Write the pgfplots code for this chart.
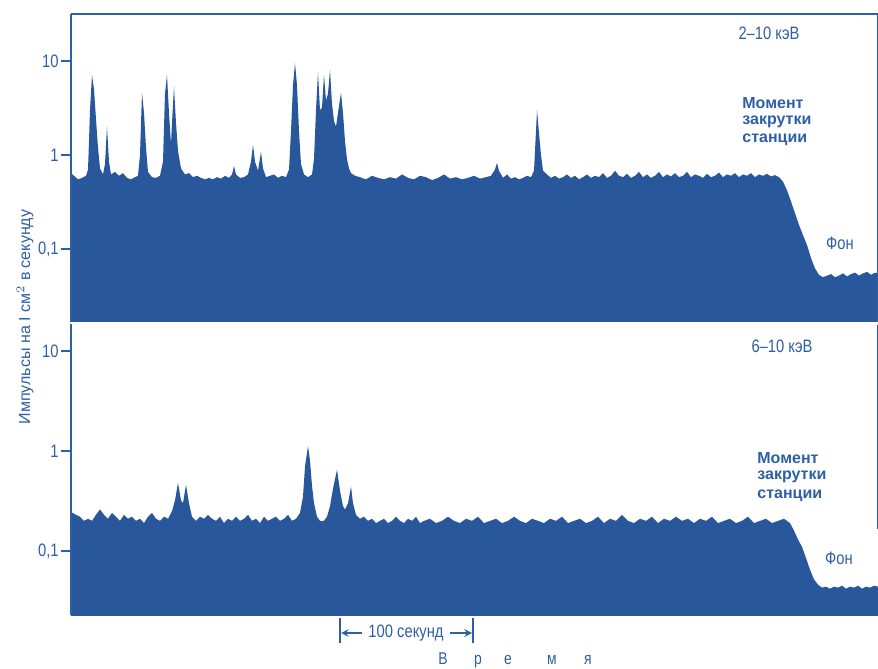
\documentclass[border=0pt]{standalone}
\usepackage{fontspec}
\setmainfont{Liberation Sans}[FakeStretch=0.82]
\newfontfamily\ylfont{Liberation Sans}
\usepackage{pgfplots}
\pgfplotsset{compat=1.18}
\definecolor{fillblue}{RGB}{40,88,155}
\definecolor{txtblue}{RGB}{45,95,165}

\begin{document}
\begin{tikzpicture}
\useasboundingbox (0pt,0pt) rectangle (439pt,334.5pt);
\begin{axis}[scale only axis, width=403.5pt, height=154pt, xmin=71, xmax=878,
  ymode=log, ymin=0.0167, ymax=31.6,
  at={(35.5pt,173.5pt)}, anchor=south west,
  axis on top, xtick=\empty, ytick={0.1,1,10}, yticklabels={0{,}1,1,10},
  axis x line*=top, axis y line*=left,
  tick align=outside, major tick length=5pt, yminorticks=false, xminorticks=false,
  axis line style={txtblue, line width=0.8pt},
  tick style={txtblue, line width=0.8pt},
  yticklabel style={font=\fontsize{9}{9}\selectfont, text=txtblue, inner sep=1pt}]
\addplot[fill=fillblue, draw=none] coordinates {
(71,0.01)
(71,0.64) (74,0.60) (78,0.55) (82,0.57) (86,0.60) (88,0.70) (89,1.4) (90,3.0) (92,7.1) (94,5.0) (96,2.4)
(98,1.2) (100,0.72) (103,0.62) (105,0.80) (107,2.0) (109,0.85) (111,0.62) (115,0.66) (119,0.60)
(123,0.64) (127,0.57) (131,0.55) (135,0.58) (138,0.60) (140,1.0) (142,4.6) (144,2.8) (146,1.2)
(148,0.66) (152,0.58) (156,0.57) (160,0.60) (163,0.85) (165,4.5) (167,7.1) (169,2.8) (171,1.3)
(172,2.2) (174,5.3) (176,2.2) (178,1.1) (181,0.72) (185,0.62) (189,0.64) (193,0.58) (197,0.60)
(201,0.57) (205,0.55) (209,0.57) (213,0.55) (217,0.58) (221,0.56) (225,0.60) (229,0.57) (232,0.62)
(234,0.76) (236,0.62) (240,0.57) (244,0.58) (248,0.62) (251,0.85) (253,1.28) (255,0.85) (258,0.68)
(261,1.08) (263,0.72) (266,0.58) (270,0.60) (274,0.62) (278,0.57) (282,0.60) (286,0.58) (289,0.70)
(291,1.8) (293,5.5) (295,9.5) (297,5.5) (299,1.8) (301,0.80) (304,0.62) (308,0.58) (312,0.62)
(314,0.9) (316,3.0) (318,7.6) (320,3.0) (322,3.2) (324,7.1) (326,3.8) (328,4.5) (330,8.0) (332,3.5)
(334,2.3) (336,2.0) (338,2.8) (341,4.6) (343,2.8) (345,1.4) (347,0.9) (349,0.72) (351,0.64) (355,0.60)
(360,0.58) (366,0.55) (372,0.60) (378,0.57) (384,0.55) (390,0.58) (396,0.56) (402,0.62) (408,0.57)
(414,0.55) (420,0.60) (426,0.58) (432,0.54) (438,0.57) (444,0.62) (450,0.56) (456,0.58) (462,0.55)
(468,0.57) (474,0.60) (480,0.56) (486,0.58) (491,0.60) (495,0.70) (497,0.82) (499,0.68) (503,0.57)
(507,0.62) (511,0.56) (515,0.58) (519,0.55) (523,0.57) (527,0.60) (531,0.58) (534,0.68) (536,1.8)
(537,3.0) (539,1.7) (541,1.0) (543,0.68) (547,0.62) (551,0.57) (555,0.60) (559,0.56) (563,0.58)
(567,0.62) (571,0.57) (575,0.60) (579,0.55) (583,0.58) (587,0.62) (591,0.57) (595,0.60) (599,0.58)
(603,0.64) (607,0.57) (611,0.60) (615,0.68) (619,0.60) (623,0.58) (627,0.63) (631,0.57) (635,0.60)
(639,0.66) (643,0.58) (647,0.62) (651,0.57) (655,0.60) (659,0.66) (663,0.58) (667,0.62) (671,0.59)
(675,0.64) (679,0.58) (683,0.60) (687,0.66) (691,0.58) (695,0.62) (699,0.60) (703,0.57) (707,0.63)
(711,0.58) (715,0.60) (719,0.65) (723,0.58) (727,0.62) (731,0.60) (735,0.64) (739,0.58) (743,0.62)
(747,0.60) (751,0.64) (755,0.58) (759,0.62) (763,0.60) (767,0.63) (771,0.59) (775,0.61) (779,0.58)
(783,0.52) (787,0.42) (791,0.32) (795,0.24) (799,0.18) (803,0.14) (807,0.11) (811,0.08) (815,0.062)
(819,0.053) (823,0.050) (827,0.052) (831,0.054) (835,0.050) (839,0.052) (843,0.055) (847,0.051)
(851,0.054) (855,0.056) (859,0.052) (863,0.055) (867,0.057) (871,0.053) (875,0.056) (878,0.055)
(878,0.01)
};
\end{axis}
\begin{axis}[scale only axis, width=403.5pt, height=145.5pt, xmin=71, xmax=878,
  ymode=log, ymin=0.0229, ymax=18.6,
  at={(35.5pt,27pt)}, anchor=south west,
  axis on top, xtick=\empty, ytick={0.1,1,10}, yticklabels={0{,}1,1,10},
  axis x line=none, axis y line*=left,
  tick align=outside, major tick length=5pt, yminorticks=false, xminorticks=false,
  axis line style={txtblue, line width=0.8pt},
  tick style={txtblue, line width=0.8pt},
  yticklabel style={font=\fontsize{9}{9}\selectfont, text=txtblue, inner sep=1pt}]
\addplot[fill=fillblue, draw=none] coordinates {
(71,0.01)
(71,0.245) (76,0.23) (80,0.22) (84,0.20) (88,0.21) (92,0.20) (96,0.23) (100,0.26) (104,0.23)
(108,0.21) (112,0.24) (116,0.22) (120,0.20) (124,0.23) (128,0.21) (132,0.22) (136,0.20) (140,0.21)
(144,0.19) (148,0.22) (152,0.24) (156,0.21) (160,0.20) (164,0.22) (168,0.21) (172,0.25) (175,0.32)
(178,0.48) (181,0.32) (183,0.30) (186,0.46) (189,0.30) (192,0.22) (196,0.20) (200,0.22) (204,0.21)
(208,0.23) (212,0.21) (216,0.20) (220,0.22) (224,0.19) (228,0.21) (232,0.20) (236,0.22) (240,0.20)
(244,0.21) (248,0.23) (252,0.20) (256,0.21) (260,0.19) (264,0.22) (268,0.20) (272,0.21) (276,0.22)
(280,0.20) (284,0.21) (288,0.23) (292,0.20) (296,0.21) (300,0.24) (303,0.35) (305,0.7) (308,1.12)
(310,0.8) (312,0.45) (314,0.30) (317,0.22) (320,0.20) (324,0.20) (327,0.22) (330,0.28) (333,0.42)
(337,0.65) (340,0.40) (343,0.28) (345,0.26) (348,0.30) (351,0.44) (353,0.30) (356,0.23) (360,0.21)
(364,0.22) (368,0.20) (372,0.21) (376,0.19) (380,0.20) (384,0.21) (388,0.19) (392,0.20) (396,0.22)
(400,0.20) (404,0.19) (408,0.21) (412,0.20) (416,0.22) (420,0.19) (424,0.20) (430,0.21) (436,0.19)
(442,0.20) (448,0.22) (454,0.20) (460,0.19) (466,0.21) (472,0.20) (478,0.22) (484,0.19) (490,0.20)
(496,0.21) (502,0.19) (508,0.20) (514,0.22) (520,0.20) (526,0.19) (532,0.21) (538,0.20) (544,0.19)
(550,0.21) (556,0.20) (562,0.22) (568,0.19) (574,0.20) (580,0.21) (586,0.19) (592,0.20) (598,0.22)
(604,0.19) (610,0.21) (616,0.20) (622,0.23) (628,0.20) (634,0.19) (640,0.21) (646,0.20) (652,0.22)
(658,0.19) (664,0.21) (670,0.20) (676,0.22) (682,0.20) (688,0.21) (694,0.19) (700,0.21) (706,0.20)
(712,0.22) (718,0.19) (724,0.20) (730,0.21) (736,0.19) (742,0.20) (748,0.22) (754,0.19) (760,0.20)
(766,0.21) (772,0.19) (778,0.20) (784,0.21) (790,0.19) (794,0.16) (798,0.13) (802,0.11) (806,0.085)
(810,0.065) (814,0.052) (818,0.046) (822,0.043) (826,0.044) (830,0.042) (834,0.044) (838,0.043)
(842,0.045) (846,0.042) (850,0.044) (854,0.043) (858,0.045) (862,0.042) (866,0.044) (870,0.043)
(874,0.045) (878,0.044)
(878,0.01)
};
\end{axis}
% right thin border
\draw[txtblue, line width=0.4pt] (438.6pt,327.5pt) -- (438.6pt,173.5pt);
\draw[txtblue, line width=0.4pt] (438.6pt,172pt) -- (438.6pt,70pt);
% y label
\node[rotate=90, txtblue, font=\ylfont\fontsize{8}{8}\selectfont] at (12.5pt,176pt) {Импульсы на I см$^2$ в секунду};
% panel labels
\begin{scope}[every node/.style={txtblue, inner sep=0pt}]
\node[font=\fontsize{9}{9}\selectfont] at (384.5pt,318pt) {2–10 кэВ};
\node[anchor=west, font=\ylfont\bfseries\fontsize{8}{8}\selectfont] at (371pt,283pt) {Момент};
\node[anchor=west, font=\ylfont\bfseries\fontsize{8}{8}\selectfont] at (371pt,273.5pt) {закрутки};
\node[anchor=west, font=\ylfont\bfseries\fontsize{8}{8}\selectfont] at (371pt,264.5pt) {станции};
\node[font=\fontsize{9}{9}\selectfont] at (420pt,213pt) {Фон};
\node[font=\fontsize{9}{9}\selectfont] at (391pt,161.5pt) {6–10 кэВ};
\node[anchor=west, font=\ylfont\bfseries\fontsize{8}{8}\selectfont] at (378.5pt,105.5pt) {Момент};
\node[anchor=west, font=\ylfont\bfseries\fontsize{8}{8}\selectfont] at (378.5pt,96pt) {закрутки};
\node[anchor=west, font=\ylfont\bfseries\fontsize{8}{8}\selectfont] at (378.5pt,86.5pt) {станции};
\node[font=\fontsize{9}{9}\selectfont] at (419.5pt,55.5pt) {Фон};
\end{scope}
% 100 seconds bar
\draw[line width=0.7pt, txtblue] (170pt,25.5pt) -- (170pt,13pt);
\draw[line width=0.7pt, txtblue] (236.5pt,25.5pt) -- (236.5pt,13pt);
\draw[line width=0.7pt, txtblue, -stealth] (181pt,18pt) -- (170.5pt,18pt);
\draw[line width=0.7pt, txtblue, -stealth] (225pt,18pt) -- (236pt,18pt);
\node[txtblue, inner sep=0pt, font=\fontsize{9}{9}\selectfont] at (203pt,18pt) {100 секунд};
\foreach \c/\xx in {В/221.5,р/239,е/254,м/276,я/294}
  \node[txtblue, inner sep=0pt, anchor=base, font=\fontsize{8.5}{8.5}\selectfont] at (\xx pt,2pt) {\c};
\end{tikzpicture}
\end{document}
